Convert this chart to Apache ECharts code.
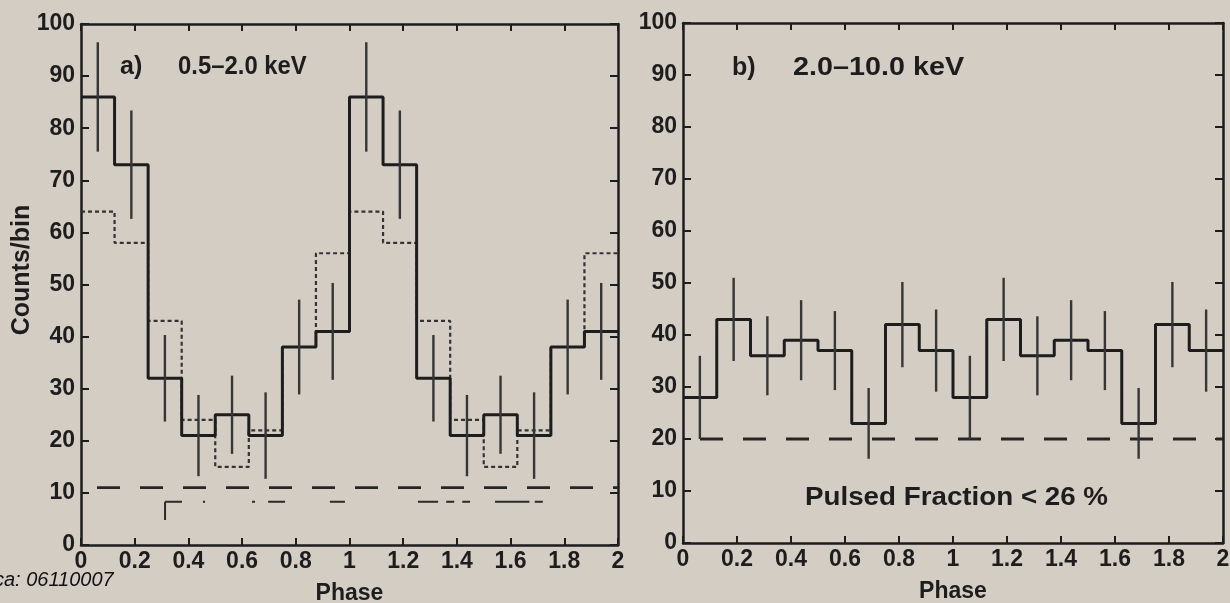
<!DOCTYPE html>
<html>
<head>
<meta charset="utf-8">
<script src="https://cdn.jsdelivr.net/npm/echarts@6/dist/echarts.min.js"></script>
<style>
  html, body { margin: 0; padding: 0; background: #d3cdc4; }
  #chart { width: 1230px; height: 603px; }
</style>
</head>
<body>
<div id="chart"></div>
<script>
// Pulse profiles folded over two cycles, 16 phase bins of width 0.125.
const binStart = [0, 0.125, 0.25, 0.375, 0.5, 0.625, 0.75, 0.875,
                  1, 1.125, 1.25, 1.375, 1.5, 1.625, 1.75, 1.875];
const binWidth = 0.125;
const phaseMax = 2;

// a) 0.5-2.0 keV
const softCounts = [86, 73, 32, 21, 25, 21, 38, 41, 86, 73, 32, 21, 25, 21, 38, 41];
const softErr = [10.5, 10.4, 8.3, 7.8, 7.5, 8.3, 9.1, 9.3, 10.5, 10.4, 8.3, 7.8, 7.5, 8.3, 9.1, 9.3];
const softAltCounts = [64, 58, 43, 24, 15, 22, 38, 56, 64, 58, 43, 24, 15, 22, 38, 56];
const softBackground = 11;
const softLowLevel = 8.3;
const softLowSegments = [
  [0.313, 0.376], [0.454, 0.462], [0.637, 0.648], [0.697, 0.760], [0.927, 0.983],
  [1.255, 1.330], [1.360, 1.390], [1.420, 1.449], [1.542, 1.670], [1.690, 1.720]
];
const softLowMarker = { phase: 0.313, from: 8.3, to: 4.8 };

// b) 2.0-10.0 keV
const hardCounts = [28, 43, 36, 39, 37, 23, 42, 37, 28, 43, 36, 39, 37, 23, 42, 37];
const hardErr = [8, 8, 7.6, 7.7, 7.6, 6.8, 8.2, 7.9, 8, 8, 7.6, 7.7, 7.6, 6.8, 8.2, 7.9];
const hardBackground = 20;

const yTicks = { min: 0, max: 100, interval: 10 };
const xTicks = { min: 0, max: 2, interval: 0.2 };

const INK = '#1d1d1d';
const FONT = "'Liberation Sans', Arial, Helvetica, sans-serif";

function stepData(values) {
  const pts = binStart.map((x, i) => [x, values[i]]);
  pts.push([phaseMax, values[values.length - 1]]);
  return pts;
}
function errData(values, errs) {
  return binStart.map((x, i) => [x + binWidth / 2, values[i] - errs[i], values[i] + errs[i]]);
}
function renderErr(params, api) {
  const a = api.coord([api.value(0), api.value(1)]);
  const b = api.coord([api.value(0), api.value(2)]);
  return {
    type: 'line',
    shape: { x1: a[0], y1: a[1], x2: b[0], y2: b[1] },
    style: { stroke: '#363636', lineWidth: 2.4 }
  };
}
function renderSeg(params, api) {
  const a = api.coord([api.value(0), api.value(1)]);
  const b = api.coord([api.value(2), api.value(3)]);
  return {
    type: 'line',
    shape: { x1: a[0], y1: a[1], x2: b[0], y2: b[1] },
    style: { stroke: '#2a2a2a', lineWidth: 2 }
  };
}

const labelStyle = { color: INK, fontFamily: FONT, fontWeight: 'bold', fontSize: 23 };
const frameLine = { onZero: false, lineStyle: { color: INK, width: 2.5 } };
const innerTick = len => ({ inside: true, length: len, lineStyle: { color: INK, width: 2 } });

function xAxes(gridIndex) {
  return [
    {
      gridIndex, type: 'value', position: 'bottom', ...xTicks,
      axisLine: frameLine, axisTick: innerTick(7),
      axisLabel: { ...labelStyle, margin: 5, formatter: v => String(+v.toFixed(1)) },
      splitLine: { show: false },
      name: 'Phase', nameLocation: 'middle', nameGap: 37,
      nameTextStyle: { color: INK, fontFamily: FONT, fontWeight: 'bold', fontSize: 23 }
    },
    {
      gridIndex, type: 'value', position: 'top', ...xTicks,
      axisLine: frameLine, axisTick: innerTick(7),
      axisLabel: { show: false }, splitLine: { show: false }
    }
  ];
}
function yAxes(gridIndex) {
  return [
    {
      gridIndex, type: 'value', position: 'left', ...yTicks,
      axisLine: frameLine, axisTick: innerTick(8),
      axisLabel: { ...labelStyle, margin: 6 },
      splitLine: { show: false }
    },
    {
      gridIndex, type: 'value', position: 'right', ...yTicks,
      axisLine: frameLine, axisTick: innerTick(8),
      axisLabel: { show: false }, splitLine: { show: false }
    }
  ];
}

const lowSegData = softLowSegments.map(s => [s[0], softLowLevel, s[1], softLowLevel]);
lowSegData.push([softLowMarker.phase, softLowMarker.from, softLowMarker.phase, softLowMarker.to]);

function label(text, x, y, sx, size) {
  return {
    type: 'text', x, y, scaleX: sx,
    style: { text, fill: INK, font: `bold ${size}px ${FONT}`, align: 'left', verticalAlign: 'middle' }
  };
}

const chart = echarts.init(document.getElementById('chart'), null, { renderer: 'canvas' });
chart.setOption({
  backgroundColor: '#d3cdc4',
  animation: false,
  grid: [
    { left: 81, top: 24, width: 537, height: 521, containLabel: false, outerBoundsMode: 'none' },
    { left: 683, top: 23, width: 540, height: 520, containLabel: false, outerBoundsMode: 'none' }
  ],
  xAxis: [...xAxes(0), ...xAxes(1)],
  yAxis: [...yAxes(0), ...yAxes(1)],
  graphic: [
    label('a)', 120, 67, 1, 25),
    label('0.5–2.0 keV', 178, 67, 0.955, 25),
    label('b)', 732, 68, 1, 25),
    label('2.0–10.0 keV', 793, 68, 1.15, 25),
    label('Pulsed Fraction < 26 %', 805, 498, 1.11, 25),
    {
      type: 'text', x: 22, y: 270, rotation: Math.PI / 2,
      style: { text: 'Counts/bin', fill: INK, font: `bold 25px ${FONT}`, align: 'center', verticalAlign: 'middle' }
    },
    { type: 'text', x: -6, y: 580, style: { text: 'ca: 06110007', fill: '#111', font: `italic 20px ${FONT}`, verticalAlign: 'middle' } }
  ],
  series: [
    {
      type: 'line', xAxisIndex: 0, yAxisIndex: 0, step: 'end', showSymbol: false,
      data: stepData(softAltCounts), z: 2,
      lineStyle: { color: '#333', width: 2.2, type: [4, 3] }
    },
    {
      type: 'line', xAxisIndex: 0, yAxisIndex: 0, step: 'end', showSymbol: false,
      data: stepData(softCounts), z: 3,
      lineStyle: { color: INK, width: 3 }
    },
    {
      type: 'custom', xAxisIndex: 0, yAxisIndex: 0, renderItem: renderErr,
      data: errData(softCounts, softErr), z: 4
    },
    {
      type: 'line', xAxisIndex: 0, yAxisIndex: 0, showSymbol: false,
      data: [[0, softBackground], [phaseMax, softBackground]],
      lineStyle: { color: '#262626', width: 2.8, type: [23, 20], dashOffset: 27 }
    },
    {
      type: 'custom', xAxisIndex: 0, yAxisIndex: 0, renderItem: renderSeg, data: lowSegData
    },
    {
      type: 'line', xAxisIndex: 2, yAxisIndex: 2, step: 'end', showSymbol: false,
      data: stepData(hardCounts), z: 3,
      lineStyle: { color: INK, width: 3 }
    },
    {
      type: 'custom', xAxisIndex: 2, yAxisIndex: 2, renderItem: renderErr,
      data: errData(hardCounts, hardErr), z: 4
    },
    {
      type: 'line', xAxisIndex: 2, yAxisIndex: 2, showSymbol: false,
      data: [[0, hardBackground], [phaseMax, hardBackground]],
      lineStyle: { color: '#262626', width: 2.8, type: [23, 20], dashOffset: 26 }
    }
  ]
});
</script>
</body>
</html>
